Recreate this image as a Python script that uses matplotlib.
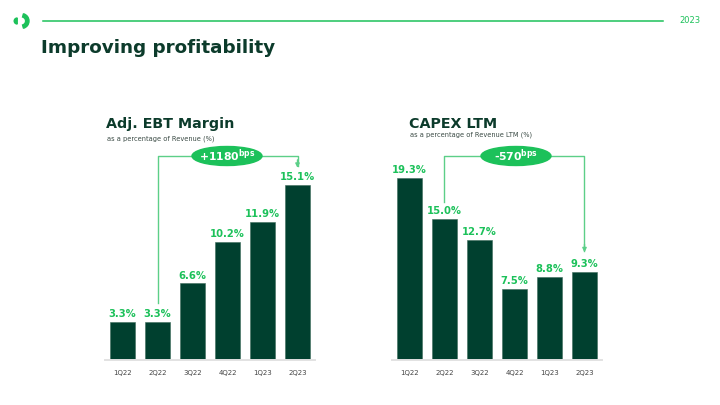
import matplotlib.pyplot as plt
from matplotlib.patches import Ellipse, Wedge
import numpy as np

# ---- data ----
quarters = ['1Q22', '2Q22', '3Q22', '4Q22', '1Q23', '2Q23']
ebt_margin = [3.3, 3.3, 6.6, 10.2, 11.9, 15.1]
capex_ltm = [19.3, 15.0, 12.7, 7.5, 8.8, 9.3]
ebt_change = '+1180'
capex_change = '-570'

DARK = '#00402f'
TITLE = '#0c3b2b'
GREEN = '#1cc15a'
LINE_GREEN = '#5ccf88'
FONT = 'DejaVu Sans'

W, H = 720, 405
fig = plt.figure(figsize=(W / 100, H / 100), dpi=100)

# overlay in pixel coords for header / titles
ov = fig.add_axes([0, 0, 1, 1])
ov.set_xlim(0, W)
ov.set_ylim(H, 0)
ov.axis('off')

# logo
ov.add_patch(Wedge((17.2, 21), 3.0, 90, 270, color=GREEN))
ov.add_patch(Wedge((21.5, 21), 7.5, -75, 75, width=3.4, color=GREEN))
ov.plot([43, 663], [20.5, 20.5], color=GREEN, lw=1.1)
ov.text(690, 20.5, '2023', color=GREEN, fontsize=6, ha='center', va='center', family=FONT)
ov.text(41, 53, 'Improving profitability', color=TITLE, fontsize=13.2,
        fontweight='bold', family=FONT, va='baseline')

ov.text(106, 128, 'Adj. EBT Margin', color=TITLE, fontsize=10.3, fontweight='bold',
        family=FONT, va='baseline')
ov.text(107, 139, 'as a percentage of Revenue (%)', color='#3a4a44', fontsize=4.8,
        family=FONT, va='center')
ov.text(409, 128, 'CAPEX LTM', color=TITLE, fontsize=10.3, fontweight='bold',
        family=FONT, va='baseline')
ov.text(410, 135, 'as a percentage of Revenue LTM (%)', color='#3a4a44', fontsize=4.8,
        family=FONT, va='center')


def px_axes(x0, x1, ytop, ybot):
    return fig.add_axes([x0 / W, 1 - ybot / H, (x1 - x0) / W, (ybot - ytop) / H])


def bar_panel(ax, values, scale, change, pill_x, start_off, end_off):
    x = np.arange(len(values))
    ax.bar(x, values, width=25 / 35, color=DARK, edgecolor='#3d6b5c', linewidth=0.4, zorder=2)
    ymax = 210 / scale
    ax.set_xlim(-0.5, len(values) - 0.5)
    ax.set_ylim(0, ymax)
    for s in ['top', 'right', 'left']:
        ax.spines[s].set_visible(False)
    ax.spines['bottom'].set_color('#e2e2e2')
    ax.spines['bottom'].set_linewidth(1.4)
    ax.set_yticks([])
    ax.set_xticks(x)
    ax.set_xticklabels(quarters, fontsize=5, color='#444444', family=FONT)
    ax.tick_params(axis='x', length=0, pad=7)
    ax.patch.set_alpha(0)
    for xi, v in zip(x, values):
        ax.annotate(f'{v:.1f}%', (xi, v), xytext=(0, 3.5), textcoords='offset points',
                    ha='center', va='baseline', color=GREEN, fontsize=7.2,
                    fontweight='bold', family=FONT)
    # change bracket
    ypill = (360 - 156) / scale
    y0 = values[1] + start_off / scale
    y1 = values[-1] + end_off / scale
    ax.plot([1, 1, len(values) - 1, len(values) - 1], [y0, ypill, ypill, y1 + 1.5 / scale],
            color=LINE_GREEN, lw=1.0, clip_on=False, zorder=1)
    ax.annotate('', xy=(len(values) - 1, y1), xytext=(len(values) - 1, y1 + 8 / scale),
                arrowprops=dict(arrowstyle='-|>', color=LINE_GREEN, lw=1.0,
                                mutation_scale=6, shrinkA=0, shrinkB=0),
                annotation_clip=False)
    ax.add_patch(Ellipse((pill_x, ypill), 70 / 35, 19 / scale, color=GREEN,
                         clip_on=False, zorder=3))
    ax.text(pill_x, ypill, change + r'$^{\mathregular{bps}}$', color='white', fontsize=7.8,
            fontweight='bold', family=FONT, ha='center', va='center', zorder=4)


axL = px_axes(105, 315, 150, 360)
bar_panel(axL, ebt_margin, 11.6, ebt_change, (227 - 122.5) / 35, 19, 17)

axR = px_axes(392, 602, 150, 360)
bar_panel(axR, capex_ltm, 9.43, capex_change, (516 - 409.5) / 35, 17, 20)

fig.savefig('out.png', dpi=100)
